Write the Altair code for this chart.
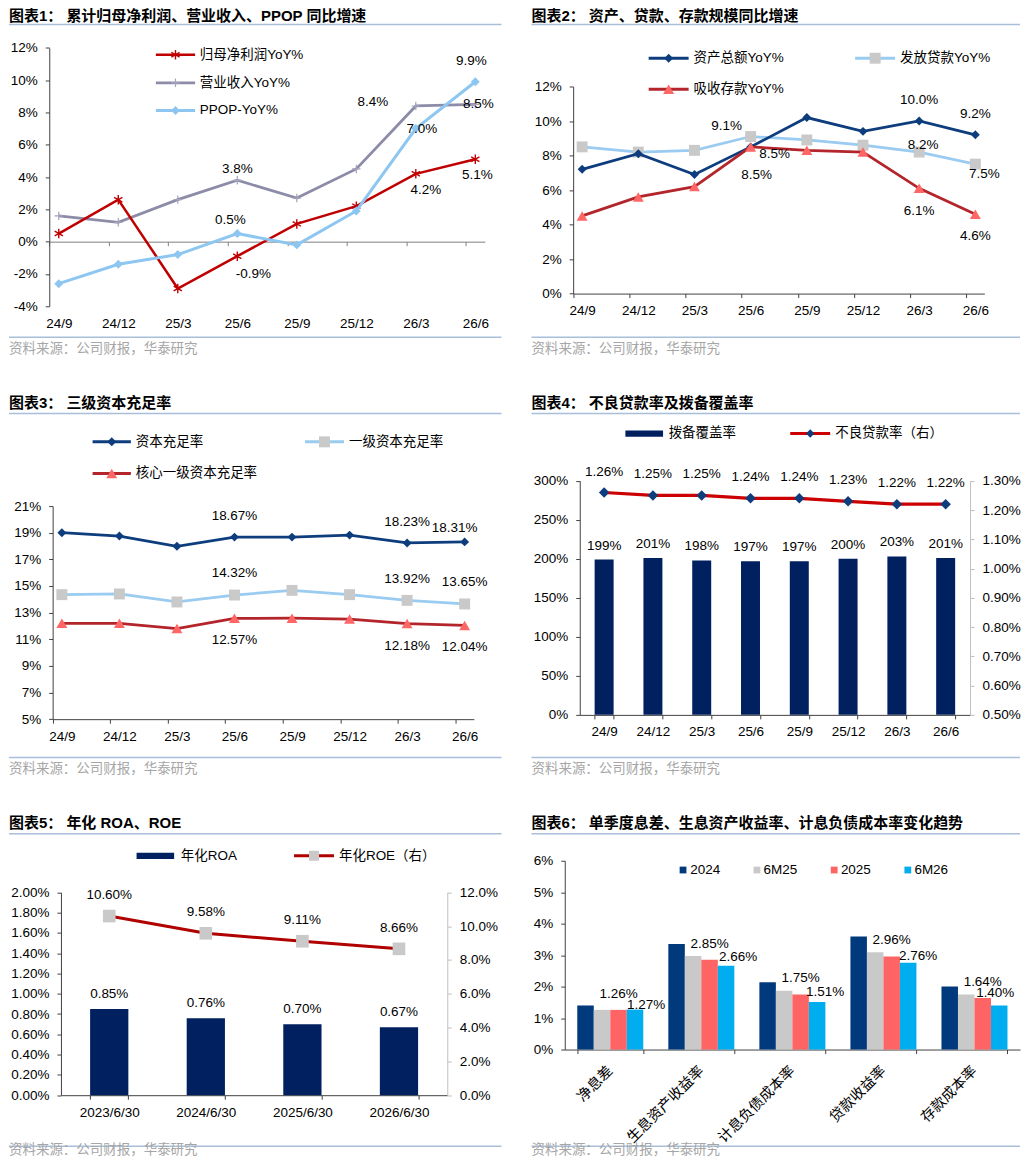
import altair as alt
import pandas as pd

# ---------------- data ----------------
periods = ["24/9", "24/12", "25/3", "25/6", "25/9", "25/12", "26/3", "26/6"]

# chart 1 (%)
np_yoy = [0.5, 2.6, -2.9, -0.9, 1.1, 2.2, 4.2, 5.1]
rev_yoy = [1.6, 1.2, 2.6, 3.8, 2.7, 4.5, 8.4, 8.5]
ppop_yoy = [-2.6, -1.4, -0.8, 0.5, -0.2, 1.9, 7.0, 9.9]

# chart 2 (%)
asset_yoy = [7.2, 8.1, 6.9, 8.5, 10.2, 9.4, 10.0, 9.2]
loan_yoy = [8.5, 8.2, 8.3, 9.1, 8.9, 8.6, 8.2, 7.5]
dep_yoy = [4.5, 5.6, 6.2, 8.5, 8.3, 8.2, 6.1, 4.6]

# chart 3 (%)
car = [19.00, 18.75, 17.98, 18.67, 18.67, 18.82, 18.23, 18.31]
tier1 = [14.35, 14.40, 13.80, 14.32, 14.67, 14.35, 13.92, 13.65]
core_t1 = [12.20, 12.20, 11.80, 12.57, 12.58, 12.52, 12.18, 12.04]

# chart 4 (%)
coverage = [199, 201, 198, 197, 197, 200, 203, 201]
npl = [1.26, 1.25, 1.25, 1.24, 1.24, 1.23, 1.22, 1.22]

# chart 5 (%)
dates5 = ["2023/6/30", "2024/6/30", "2025/6/30", "2026/6/30"]
roa = [0.85, 0.76, 0.70, 0.67]
roe = [10.60, 9.58, 9.11, 8.66]

# chart 6 (%)
items6 = ["净息差", "生息资产收益率", "计息负债成本率", "贷款收益率", "存款成本率"]
series6 = ["2024", "6M25", "2025", "6M26"]
r2024 = [1.40, 3.35, 2.14, 3.59, 2.00]
r6m25 = [1.26, 2.97, 1.87, 3.09, 1.75]
r2025 = [1.26, 2.85, 1.75, 2.96, 1.64]
r6m26 = [1.27, 2.66, 1.51, 2.76, 1.40]

# axis tick values
ticks1 = [-4, -2, 0, 2, 4, 6, 8, 10, 12]
ticks2 = [0, 2, 4, 6, 8, 10, 12]
ticks3 = [5, 7, 9, 11, 13, 15, 17, 19, 21]
ticks4L = [0, 50, 100, 150, 200, 250, 300]
ticks4R = [0.5, 0.6, 0.7, 0.8, 0.9, 1.0, 1.1, 1.2, 1.3]
ticks5L = [0.0, 0.2, 0.4, 0.6, 0.8, 1.0, 1.2, 1.4, 1.6, 1.8, 2.0]
ticks5R = [0, 2, 4, 6, 8, 10, 12]
ticks6 = [0, 1, 2, 3, 4, 5, 6]

# ---------------- styles ----------------
FONT = "Liberation Sans, Noto Sans CJK SC"
FS = 13.5
AXC = "#404040"
ULC = "#A9BFD9"
SRC = "资料来源：公司财报，华泰研究"

RED1, GRAY1, LBLUE1 = "#C00000", "#8C8CA8", "#8DC7F1"
NAVY, LBLUE, SQGRAY, DRED, SALMON = "#0E3D7E", "#9ACBF0", "#C9C9C9", "#B3252B", "#FF6666"
BARNAVY, RED4 = "#002060", "#CC0000"
C6 = ["#003A7C", "#C9C9C9", "#FF6464", "#00AEEF"]

ASTER = "M0,-1L0,1M-0.87,-0.5L0.87,0.5M-0.87,0.5L0.87,-0.5"
PLUS = "M0,-1L0,1M-1,0L1,0"

PW = 507  # panel width


def D():
    return alt.Chart(pd.DataFrame({"d": [0]}))


def V(v):
    return alt.value(v)


def frame(o, ph, title, ty, uly, sly, sy, xl, xr, tbase="middle", sbase="middle"):
    ox, oy = o
    return [
        D().mark_text(text=title, align="left", baseline=tbase, font=FONT, fontSize=15,
                      fontWeight="bold", color="#000000").encode(x=V(xl - ox), y=V(ty - oy)),
        D().mark_rule(color=ULC, strokeWidth=1.5).encode(x=V(xl - ox), x2=V(xr - ox), y=V(uly - oy)),
        D().mark_rule(color=ULC, strokeWidth=1.5).encode(x=V(xl - ox), x2=V(xr - ox), y=V(sly - oy)),
        D().mark_text(text=SRC, align="left", baseline=sbase, font=FONT, fontSize=13.5,
                      color="#A6A6A6").encode(x=V(xl - ox), y=V(sy - oy)),
    ]


def leg_line(o, x1, x2, y, color, width, label, tx, marker=None):
    ox, oy = o
    out = [D().mark_rule(color=color, strokeWidth=width).encode(x=V(x1 - ox), x2=V(x2 - ox), y=V(y - oy))]
    if marker:
        out.append(D().mark_point(opacity=1, **marker).encode(x=V((x1 + x2) / 2 - ox), y=V(y - oy)))
    out.append(D().mark_text(text=label, align="left", baseline="middle", font=FONT, fontSize=FS,
                             color="#000000").encode(x=V(tx - ox), y=V(y - oy)))
    return out


def leg_rect(o, x1, x2, y1, y2, color, label, tx, ty):
    ox, oy = o
    return [
        D().mark_rect(color=color).encode(x=V(x1 - ox), x2=V(x2 - ox), y=V(y1 - oy), y2=V(y2 - oy)),
        D().mark_text(text=label, align="left", baseline="middle", font=FONT, fontSize=FS,
                      color="#000000").encode(x=V(tx - ox), y=V(ty - oy)),
    ]


def yaxis(values, expr, offset, orient="left", dcol=AXC):
    return alt.Axis(values=values, labelExpr=expr, orient=orient, offset=offset, title=None,
                    grid=False, domainColor=dcol, domainWidth=1, tickColor=dcol, tickWidth=1,
                    tickSize=4, labelPadding=8, labelFont=FONT, labelFontSize=FS,
                    labelColor="#000000", labelOverlap=False, minExtent=0)


def xaxis_point(off, labelPadding, offset, dcol=AXC):
    return alt.Axis(title=None, orient="bottom", grid=False, domainColor=dcol, domainWidth=1,
                    tickColor=dcol, tickSize=4, tickOffset=-off, labelOffset=off,
                    labelPadding=labelPadding, offset=offset, labelFont=FONT, labelFontSize=FS,
                    labelColor="#000000", labelAngle=0, labelOverlap=False, minExtent=0)


def xaxis_band(offset, labelPadding=7, angle=0, align="center", baseline="top", fs=FS):
    return alt.Axis(title=None, orient="bottom", offset=offset, grid=False, tickBand="extent",
                    domainColor=AXC, domainWidth=1, tickColor=AXC, tickSize=4,
                    labelPadding=labelPadding, labelFont=FONT, labelFontSize=fs,
                    labelColor="#000000", labelAngle=angle, labelAlign=align,
                    labelBaseline=baseline, labelOverlap=False, minExtent=0)


def series(df, field, X, Y, color, width, marker):
    return [
        alt.Chart(df).mark_line(color=color, strokeWidth=width).encode(x=X, y=Y(field)),
        alt.Chart(df).mark_point(opacity=1, **marker).encode(x=X, y=Y(field)),
    ]


def lab(df, field, cat, dx, dy, X, Y, xcol="period"):
    return (alt.Chart(df).transform_filter(alt.datum[xcol] == cat)
            .mark_text(dx=dx, dy=dy, font=FONT, fontSize=FS, color="#000000")
            .encode(x=X, y=Y(field), text=alt.Text(field + "_t:N")))


PAD = 0.16

# ---------------- chart 1 ----------------
o1 = (8, 8)
PH1 = 371
L1, R1, T1, B1 = 40.3, 476.3, 39.3, 298.0
df1 = pd.DataFrame({"period": periods, "np": np_yoy, "rev": rev_yoy, "ppop": ppop_yoy})
for c in ["np", "rev", "ppop"]:
    df1[c + "_t"] = [f"{v:.1f}%" for v in df1[c]]
ys1 = alt.Scale(domain=[-4, 12], nice=False, zero=False, range=[B1, T1])
yax1 = yaxis(ticks1, "datum.value + '%'", offset=-L1)
Y1 = lambda f: alt.Y(f + ":Q", scale=ys1, axis=yax1)
off1 = PAD * (R1 - L1) / (7 + 2 * PAD)
zero1 = T1 + (B1 - T1) * 12 / 16
X1 = alt.X("period:N", scale=alt.Scale(type="point", padding=PAD, domain=periods, range=[L1, R1]),
           axis=xaxis_point(off1, labelPadding=71, offset=-(PH1 - zero1), dcol="#808080"))

m_aster = dict(shape=ASTER, filled=False, color=RED1, size=90, strokeWidth=1.4)
m_plus = dict(shape=PLUS, filled=False, color="#A3A3BC", size=70, strokeWidth=1.2)
m_dia1 = dict(shape="diamond", filled=True, color=LBLUE1, size=80)

layers1 = frame(o1, PH1, "图表1：  累计归母净利润、营业收入、PPOP 同比增速",
                8, 24, 337, 349, 8, 501, tbase="top")
layers1 += series(df1, "rev", X1, Y1, GRAY1, 2.75, m_plus)
layers1 += series(df1, "np", X1, Y1, RED1, 2.5, m_aster)
layers1 += series(df1, "ppop", X1, Y1, LBLUE1, 3, m_dia1)
for f, cat, dx, dy in [("rev", "25/6", 0, -11), ("rev", "26/3", -43, -4), ("rev", "26/6", 3, 0),
                       ("ppop", "25/6", -7, -14), ("ppop", "26/3", 6, 0), ("ppop", "26/6", -4, -21),
                       ("np", "25/6", 16, 18), ("np", "26/3", 10, 16), ("np", "26/6", 2, 16)]:
    layers1.append(lab(df1, f, cat, dx, dy, X1, Y1))
layers1 += leg_line(o1, 155, 194.3, 54.3, RED1, 2.5, "归母净利润YoY%", 199, m_aster)
layers1 += leg_line(o1, 155, 194.3, 82.3, GRAY1, 2.75, "营业收入YoY%", 199, m_plus)
layers1 += leg_line(o1, 155, 194.3, 110, LBLUE1, 3, "PPOP-YoY%", 199, m_dia1)
p1 = alt.layer(*layers1).properties(width=PW, height=PH1)

# ---------------- chart 2 ----------------
o2 = (515, 8)
PH2 = 371
L2, R2, T2, B2 = 57.7, 469.3, 78.0, 285.3
df2 = pd.DataFrame({"period": periods, "asset": asset_yoy, "loan": loan_yoy, "dep": dep_yoy})
for c in ["asset", "loan", "dep"]:
    df2[c + "_t"] = [f"{v:.1f}%" for v in df2[c]]
ys2 = alt.Scale(domain=[0, 12], nice=False, range=[B2, T2])
yax2 = yaxis(ticks2, "datum.value + '%'", offset=-L2)
Y2 = lambda f: alt.Y(f + ":Q", scale=ys2, axis=yax2)
off2 = PAD * (R2 - L2) / (7 + 2 * PAD)
X2 = alt.X("period:N", scale=alt.Scale(type="point", padding=PAD, domain=periods, range=[L2, R2]),
           axis=xaxis_point(off2, labelPadding=6, offset=-(PH2 - B2)))

m_dia = dict(shape="diamond", filled=True, color=NAVY, size=80)
m_sq = dict(shape="square", filled=True, color=SQGRAY, size=120)
m_tri = dict(shape="triangle-up", filled=True, color=SALMON, size=120)

layers2 = frame(o2, PH2, "图表2：  资产、贷款、存款规模同比增速",
                8, 24, 337, 349, 531, 1020, tbase="top")
layers2 += series(df2, "loan", X2, Y2, LBLUE, 2.75, m_sq)
layers2 += series(df2, "asset", X2, Y2, NAVY, 2.75, m_dia)
layers2 += series(df2, "dep", X2, Y2, DRED, 2.75, m_tri)
for f, cat, dx, dy in [("loan", "25/6", -24, -11), ("asset", "25/6", 24, 7), ("dep", "25/6", 6, 28),
                       ("asset", "26/3", 0, -21), ("asset", "26/6", 0, -21),
                       ("loan", "26/3", 4, -7), ("loan", "26/6", 9, 10),
                       ("dep", "26/3", 0, 23), ("dep", "26/6", 0, 22)]:
    layers2.append(lab(df2, f, cat, dx, dy, X2, Y2))
layers2 += leg_line(o2, 648.3, 688.3, 57.7, NAVY, 3, "资产总额YoY%", 693.3, m_dia)
layers2 += leg_line(o2, 855, 895, 57.7, LBLUE, 3, "发放贷款YoY%", 900, m_sq)
layers2 += leg_line(o2, 648.3, 688.3, 88.7, DRED, 3, "吸收存款YoY%", 693.3, m_tri)
p2 = alt.layer(*layers2).properties(width=PW, height=PH2)

# ---------------- chart 3 ----------------
o3 = (8, 379)
PH3 = 409
L3, R3, T3, B3 = 43.7, 465.3, 127.0, 340.3
df3 = pd.DataFrame({"period": periods, "car": car, "t1": tier1, "ct1": core_t1})
for c in ["car", "t1", "ct1"]:
    df3[c + "_t"] = [f"{v:.2f}%" for v in df3[c]]
ys3 = alt.Scale(domain=[5, 21], nice=False, zero=False, range=[B3, T3])
yax3 = yaxis(ticks3, "datum.value + '%'", offset=-L3)
Y3 = lambda f: alt.Y(f + ":Q", scale=ys3, axis=yax3)
off3 = PAD * (R3 - L3) / (7 + 2 * PAD)
X3 = alt.X("period:N", scale=alt.Scale(type="point", padding=PAD, domain=periods, range=[L3, R3]),
           axis=xaxis_point(off3, labelPadding=6, offset=-(PH3 - B3)))

layers3 = frame(o3, PH3, "图表3：  三级资本充足率", 402.7, 413.3, 757.7, 769.3, 8, 501)
layers3 += series(df3, "t1", X3, Y3, LBLUE, 2.75, m_sq)
layers3 += series(df3, "ct1", X3, Y3, DRED, 2.75, m_tri)
layers3 += series(df3, "car", X3, Y3, NAVY, 2.75, m_dia)
for f, cat, dx, dy in [("car", "25/6", 0, -21), ("car", "26/3", 0, -21), ("car", "26/6", -10, -14),
                       ("t1", "25/6", 0, -22), ("t1", "26/3", 0, -21), ("t1", "26/6", 0, -22),
                       ("ct1", "25/6", 0, 22), ("ct1", "26/3", 0, 22), ("ct1", "26/6", 0, 22)]:
    layers3.append(lab(df3, f, cat, dx, dy, X3, Y3))
layers3 += leg_line(o3, 91.7, 130, 441.7, NAVY, 3, "资本充足率", 135, m_dia)
layers3 += leg_line(o3, 304.3, 343.3, 441.7, LBLUE, 3, "一级资本充足率", 348.3, m_sq)
layers3 += leg_line(o3, 91.7, 130, 473.3, DRED, 3, "核心一级资本充足率", 135, m_tri)
p3 = alt.layer(*layers3).properties(width=PW, height=PH3)

# ---------------- chart 4 ----------------
o4 = (515, 379)
PH4 = 409
L4, R4, T4, B4 = 64.3, 455.0, 101.7, 336.0
df4 = pd.DataFrame({"period": periods, "cov": coverage, "npl": npl})
df4["cov_t"] = [f"{v:d}%" for v in coverage]
df4["npl_t"] = [f"{v:.2f}%" for v in npl]
X4 = alt.X("period:N", scale=alt.Scale(domain=periods, paddingInner=0.611, paddingOuter=0.3055,
                                       range=[L4, R4]),
           axis=xaxis_band(offset=-(PH4 - B4), labelPadding=6))
ys4L = alt.Scale(domain=[0, 300], nice=False, range=[B4, T4])
ys4R = alt.Scale(domain=[0.5, 1.3], nice=False, zero=False, range=[B4, T4])
yax4L = yaxis(ticks4L, "datum.value + '%'", offset=-L4)
yax4R = yaxis(ticks4R, "format(datum.value, '.2f') + '%'", offset=-(PW - R4), orient="right",
              dcol="#BFBFBF")
Y4L = lambda f: alt.Y(f + ":Q", scale=ys4L, axis=yax4L)
Y4R = lambda f: alt.Y(f + ":Q", scale=ys4R, axis=yax4R)

left4 = alt.layer(
    alt.Chart(df4).mark_bar(color=BARNAVY).encode(x=X4, y=Y4L("cov")),
    alt.Chart(df4).mark_text(dy=-14, font=FONT, fontSize=FS, color="#000000")
    .encode(x=X4, y=Y4L("cov"), text="cov_t:N"),
)
m_dia4 = dict(shape="diamond", filled=True, color=NAVY, size=110)
right4 = alt.layer(
    alt.Chart(df4).mark_line(color=RED4, strokeWidth=3.25).encode(x=X4, y=Y4R("npl")),
    alt.Chart(df4).mark_point(opacity=1, **m_dia4).encode(x=X4, y=Y4R("npl")),
    alt.Chart(df4).mark_text(dy=-21, font=FONT, fontSize=FS, color="#000000")
    .encode(x=X4, y=Y4R("npl"), text="npl_t:N"),
)
layers4 = frame(o4, PH4, "图表4：  不良贷款率及拨备覆盖率", 402.7, 413.3, 757.7, 769.3, 531, 1020)
layers4 += [left4, right4]
layers4 += leg_rect(o4, 625, 662.7, 430.3, 436.7, BARNAVY, "拨备覆盖率", 668.3, 433.3)
layers4 += leg_line(o4, 790, 830, 433.3, RED4, 3, "不良贷款率（右）", 835, dict(m_dia4, size=70))
p4 = alt.layer(*layers4).resolve_scale(y="independent").properties(width=PW, height=PH4)

# ---------------- chart 5 ----------------
o5 = (8, 788)
PH5 = 370
L5, R5, T5, B5 = 52.0, 438.7, 104.7, 307.7
df5 = pd.DataFrame({"date": dates5, "roa": roa, "roe": roe})
df5["roa_t"] = [f"{v:.2f}%" for v in roa]
df5["roe_t"] = [f"{v:.2f}%" for v in roe]
X5 = alt.X("date:N", scale=alt.Scale(domain=dates5, paddingInner=0.604, paddingOuter=0.302,
                                     range=[L5, R5]),
           axis=xaxis_band(offset=-(PH5 - B5), labelPadding=6))
ys5L = alt.Scale(domain=[0, 2], nice=False, range=[B5, T5])
ys5R = alt.Scale(domain=[0, 12], nice=False, range=[B5, T5])
yax5L = yaxis(ticks5L, "format(datum.value, '.2f') + '%'", offset=-L5)
yax5R = yaxis(ticks5R, "format(datum.value, '.1f') + '%'", offset=-(PW - R5), orient="right",
              dcol="#BFBFBF")
Y5L = lambda f: alt.Y(f + ":Q", scale=ys5L, axis=yax5L)
Y5R = lambda f: alt.Y(f + ":Q", scale=ys5R, axis=yax5R)
left5 = alt.layer(
    alt.Chart(df5).mark_bar(color=BARNAVY).encode(x=X5, y=Y5L("roa")),
    alt.Chart(df5).mark_text(dy=-15, font=FONT, fontSize=FS, color="#000000")
    .encode(x=X5, y=Y5L("roa"), text="roa_t:N"),
)
m_sq5 = dict(shape="square", filled=True, color=SQGRAY, size=160)
right5 = alt.layer(
    alt.Chart(df5).mark_line(color="#B00000", strokeWidth=3).encode(x=X5, y=Y5R("roe")),
    alt.Chart(df5).mark_point(opacity=1, **m_sq5).encode(x=X5, y=Y5R("roe")),
    alt.Chart(df5).mark_text(dy=-21, font=FONT, fontSize=FS, color="#000000")
    .encode(x=X5, y=Y5R("roe"), text="roe_t:N"),
)
layers5 = frame(o5, PH5, "图表5：  年化 ROA、ROE", 823.3, 834, 1146.7, 1158, 8, 501,
                sbase="bottom")
layers5 += [left5, right5]
layers5 += leg_rect(o5, 135.7, 173.3, 853, 859.3, BARNAVY, "年化ROA", 180, 856)
layers5 += leg_line(o5, 293.3, 333.3, 856, "#B00000", 3, "年化ROE（右）", 338.3, dict(m_sq5, size=100))
p5 = alt.layer(*layers5).resolve_scale(y="independent").properties(width=PW, height=PH5)

# ---------------- chart 6 ----------------
o6 = (515, 788)
PH6 = 370
L6, R6, T6, B6 = 49.3, 505.0, 73.0, 262.0
rows6 = []
for s, vals in zip(series6, [r2024, r6m25, r2025, r6m26]):
    for it, v in zip(items6, vals):
        rows6.append({"item": it, "series": s, "val": v, "val_t": f"{v:.2f}%"})
df6 = pd.DataFrame(rows6)
X6 = alt.X("item:N", scale=alt.Scale(domain=items6, paddingInner=0.275, paddingOuter=0.1375,
                                     range=[L6, R6]),
           axis=xaxis_band(offset=-(PH6 - B6), labelPadding=15, angle=315, align="right",
                           baseline="middle", fs=14.5))
XO6 = alt.XOffset("series:N", scale=alt.Scale(domain=series6, paddingInner=0, paddingOuter=0))
ys6 = alt.Scale(domain=[0, 6], nice=False, range=[B6, T6])
yax6 = yaxis(ticks6, "datum.value + '%'", offset=-L6)
Y6 = alt.Y("val:Q", scale=ys6, axis=yax6)
bars6 = alt.Chart(df6).mark_bar().encode(
    x=X6, xOffset=XO6, y=Y6,
    color=alt.Color("series:N", scale=alt.Scale(domain=series6, range=C6), legend=None))
lab6a = (alt.Chart(df6).transform_filter(alt.datum.series == "2025")
         .mark_text(dy=-16, font=FONT, fontSize=FS, color="#000000")
         .encode(x=X6, xOffset=XO6, y=Y6, text="val_t:N"))
layers6 = frame(o6, PH6, "图表6：  单季度息差、生息资产收益率、计息负债成本率变化趋势",
                823.3, 834, 1146.7, 1158, 531, 1020, sbase="bottom")
layers6 += [bars6, lab6a]
for it, dx, dy in zip(items6, [11, 12, 8, 10, -4], [-5, -9, -10, -7, -12]):
    layers6.append(
        alt.Chart(df6)
        .transform_filter((alt.datum.series == "6M26") & (alt.datum.item == it))
        .mark_text(dx=dx, dy=dy, font=FONT, fontSize=FS, color="#000000")
        .encode(x=X6, xOffset=XO6, y=Y6, text="val_t:N"))
for s, c, sx, tx in zip(series6, C6, [682.7, 756.7, 834, 907.7], [690, 763.3, 840.7, 914.3]):
    layers6 += leg_rect(o6, sx - 3.4, sx + 3.4, 866.9, 873.7, c, s, tx, 870.3)
p6 = alt.layer(*layers6).properties(width=PW, height=PH6)

# ---------------- assemble ----------------
chart = (alt.concat(p1, p2, p3, p4, p5, p6, columns=2, spacing=0, bounds="flush", align="each")
         .properties(padding=0)
         .configure_view(stroke=None))

chart.save("out.html", embed_options={"renderer": "svg", "actions": False})
